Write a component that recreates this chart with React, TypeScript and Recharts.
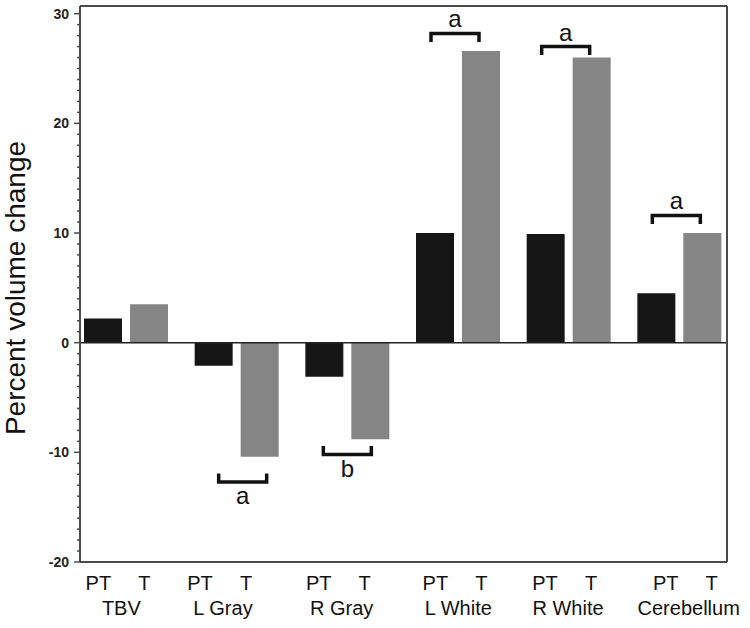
import React from "react"
import { ComposedChart, Bar, Line, XAxis, YAxis, ReferenceLine, LabelList } from "recharts"

const regions = ["TBV", "L Gray", "R Gray", "L White", "R White", "Cerebellum"]
const seriesNames = ["PT", "T"]
const ptChange = [2.2, -2.1, -3.1, 10.0, 9.9, 4.5]
const tChange = [3.5, -10.4, -8.8, 26.6, 26.0, 10.0]
// significance brackets between PT and T (level in percent units)
const sigLetters = [null, "a", "b", "a", "a", "a"]
const sigLevels = [null, -12.7, -10.2, 28.2, 27.0, 11.6]
const yMajorTicks = [-20, -10, 0, 10, 20, 30]
const yDomain = [-20, 30.7]

const yTicks: number[] = []
for (let v = -20; v <= 30; v++) yTicks.push(v)

const data = regions.map((name, i) => ({ name, PT: ptChange[i], T: tChange[i] }))

const FONT = "'Liberation Sans', Arial, Helvetica, sans-serif"
const BAR_SIZE = 38
const BAR_GAP = 8
const AXIS_COLOR = "#4a4a4a"

// small hand nudges so labels sit like in the original figure
const labelShift = [-5, -14, -6, 0, -1, 9]
const bracketShift = [0, 6, 0, -3, -3, -3]

const RegionTick = (props: any) => {
  const { x, y, payload } = props
  const i = regions.indexOf(payload.value)
  const cx = x + (labelShift[i] ?? 0)
  const off = BAR_GAP / 2 + BAR_SIZE / 2
  return (
    <g fontFamily={FONT} fontSize={20} fill="#111">
      <text x={cx - off} y={y + 28} textAnchor="middle">{seriesNames[0]}</text>
      <text x={cx + off} y={y + 28} textAnchor="middle">{seriesNames[1]}</text>
      <text x={cx} y={y + 53} textAnchor="middle">{payload.value}</text>
    </g>
  )
}

const PercentTick = (props: any) => {
  const { x, y, payload } = props
  const major = yMajorTicks.includes(payload.value)
  const len = major ? 6 : 3
  return (
    <g>
      <line x1={x - len} x2={x} y1={y} y2={y} stroke={AXIS_COLOR} strokeWidth={1.5} />
      {major && (
        <text x={x - 11} y={y} dy="0.36em" textAnchor="end" fontFamily={FONT} fontSize={14} fontWeight="bold" fill="#222">
          {payload.value}
        </text>
      )}
    </g>
  )
}

const renderYTitle = (props: any) => {
  const vb = props.viewBox || {}
  const cx = (vb.x ?? 0) + 25
  const cy = (vb.y ?? 0) + (vb.height ?? 0) / 2 + 4
  return (
    <text x={cx} y={cy} transform={`rotate(-90, ${cx}, ${cy})`} textAnchor="middle" fontFamily={FONT} fontSize={28} fill="#111">
      Percent volume change
    </text>
  )
}

const renderBracket = (props: any) => {
  const vb = props.viewBox && props.viewBox.width != null ? props.viewBox : props
  const { x, y, height } = vb
  if (x == null || y == null) return null
  const idx = typeof props.index === "number" ? props.index : tChange.indexOf(props.value)
  const level = sigLevels[idx]
  const letter = sigLetters[idx]
  if (level == null || !letter) return null
  const v = tChange[idx]
  const top = Math.min(y, y + height)
  const bottom = Math.max(y, y + height)
  const zeroPx = v >= 0 ? bottom : top
  const unit = (bottom - top) / Math.abs(v)
  const by = zeroPx - level * unit
  const cx = x - BAR_GAP / 2 + bracketShift[idx]
  const half = 24
  const tick = level >= 0 ? 8.5 : -8.5
  const ty = level >= 0 ? by - 6 : by + 22
  return (
    <g>
      <path
        d={`M${cx - half},${by + tick} V${by} H${cx + half} V${by + tick}`}
        fill="none"
        stroke="#111"
        strokeWidth={3.5}
      />
      <text x={cx} y={ty} textAnchor="middle" fontFamily={FONT} fontSize={24} fill="#111">
        {letter}
      </text>
    </g>
  )
}

export default function App() {
  return (
    <div style={{ position: "absolute", left: 0, top: 0, width: 750, height: 628, background: "#fff" }}>
      <ComposedChart
        width={750}
        height={628}
        data={data}
        margin={{ top: 5, right: 22, bottom: 6, left: 0 }}
        barGap={BAR_GAP}
      >
        <XAxis
          dataKey="name"
          height={60}
          interval={0}
          padding={{ left: -9, right: -8 }}
          tickLine={false}
          tickSize={0}
          tickMargin={0}
          axisLine={{ stroke: AXIS_COLOR, strokeWidth: 2 }}
          tick={<RegionTick />}
        />
        <XAxis
          xAxisId="top"
          orientation="top"
          dataKey="name"
          height={1}
          tick={false}
          tickLine={false}
          axisLine={{ stroke: AXIS_COLOR, strokeWidth: 2 }}
        />
        <YAxis
          type="number"
          domain={yDomain}
          ticks={yTicks}
          interval={0}
          width={80}
          tickLine={false}
          tickSize={0}
          tickMargin={0}
          axisLine={{ stroke: AXIS_COLOR, strokeWidth: 2 }}
          tick={<PercentTick />}
          label={renderYTitle}
        />
        <YAxis
          yAxisId="right"
          orientation="right"
          type="number"
          domain={yDomain}
          width={1}
          tick={false}
          tickLine={false}
          axisLine={{ stroke: AXIS_COLOR, strokeWidth: 2 }}
        />
        <ReferenceLine y={0} stroke="#222" strokeWidth={1.5} />
        <Bar dataKey="PT" fill="#161616" barSize={BAR_SIZE} isAnimationActive={false} />
        <Bar dataKey="T" fill="#858585" barSize={BAR_SIZE} isAnimationActive={false}>
          <LabelList dataKey="T" content={renderBracket} />
        </Bar>
        {/* invisible series so the frame axes on top/right get drawn */}
        <Line
          xAxisId="top"
          yAxisId="right"
          dataKey="T"
          stroke="none"
          dot={false}
          activeDot={false}
          isAnimationActive={false}
        />
      </ComposedChart>
    </div>
  )
}
